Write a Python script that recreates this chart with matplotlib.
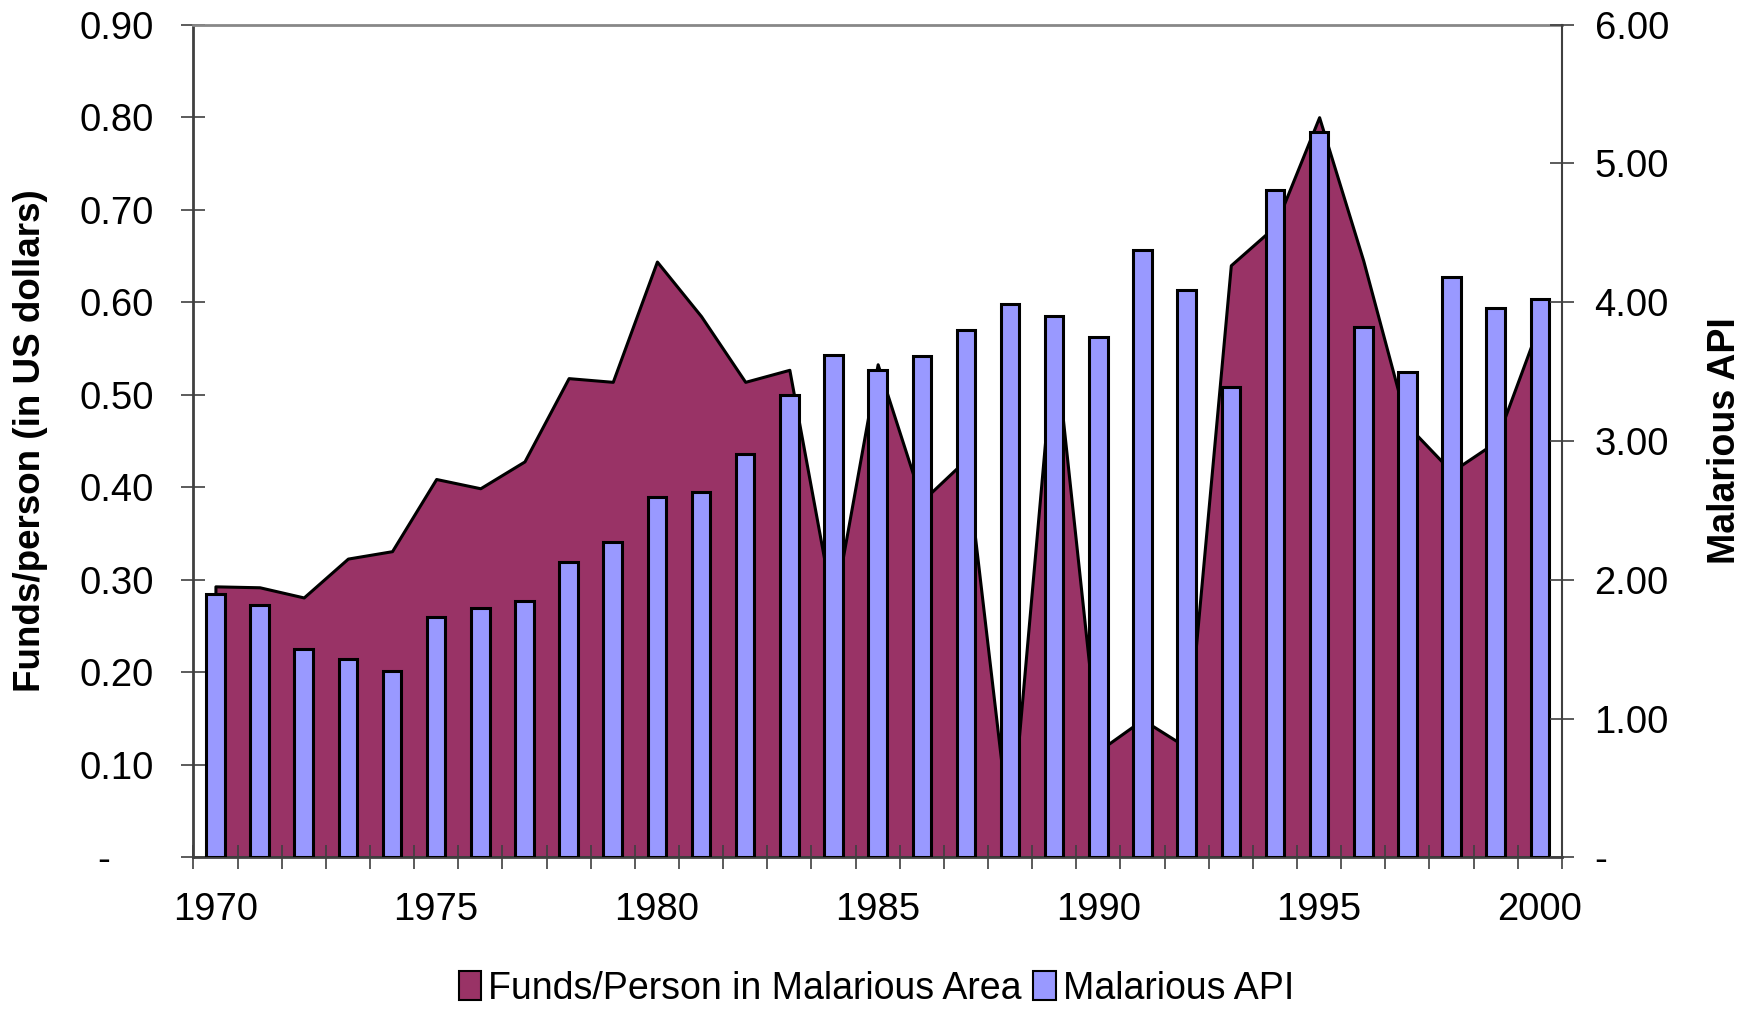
import matplotlib
matplotlib.use("Agg")
import matplotlib.pyplot as plt
import numpy as np
from matplotlib.ticker import FixedLocator, FuncFormatter
from matplotlib.patches import Patch

plt.rcParams['font.family'] = ['Liberation Sans', 'DejaVu Sans']

# --- data ---
years = list(range(1970, 2001))
funds_per_person = [0.293, 0.292, 0.281, 0.323, 0.331, 0.409, 0.399, 0.428, 0.518, 0.514,
                    0.644, 0.585, 0.514, 0.527, 0.268, 0.533, 0.385, 0.430, 0.022, 0.561,
                    0.115, 0.149, 0.119, 0.640, 0.682, 0.800, 0.645, 0.467, 0.417, 0.449,
                    0.578]
malarious_api = [1.90, 1.82, 1.50, 1.43, 1.34, 1.73, 1.80, 1.85, 2.13, 2.27,
                 2.60, 2.63, 2.91, 3.33, 3.62, 3.51, 3.61, 3.80, 3.99, 3.90,
                 3.75, 4.38, 4.09, 3.39, 4.81, 5.23, 3.82, 3.50, 4.18, 3.96,
                 4.02]
year_labels = [1970, 1975, 1980, 1985, 1990, 1995, 2000]

area_color = '#993366'
bar_color = '#9999FF'

fig = plt.figure(figsize=(17.53, 10.10), dpi=100)
ax = fig.add_axes([0.1103, 0.151, 0.7807, 0.8246])
ax2 = ax.twinx()

# area (left axis)
ax.fill_between(years, funds_per_person, 0, facecolor=area_color,
                edgecolor='black', linewidth=2.2)
ax.set_ylim(0, 0.9)
ax.set_xlim(1969.5, 2000.5)

# bars (right axis)
ax2.bar(years, malarious_api, width=0.42, color=bar_color,
        edgecolor='black', linewidth=2.2)
ax2.set_ylim(0, 6)

# left axis ticks
ax.yaxis.set_major_locator(FixedLocator(np.arange(0, 0.91, 0.1)))
ax.yaxis.set_major_formatter(FuncFormatter(lambda v, p: '-    ' if abs(v) < 1e-9 else f'{v:.2f}'))
ax.tick_params(axis='y', direction='inout', length=17, width=1.2, color='#404040',
               labelsize=27.5, pad=20)

# right axis ticks
ax2.yaxis.set_major_locator(FixedLocator(np.arange(0, 6.1, 1)))
ax2.yaxis.set_major_formatter(FuncFormatter(lambda v, p: '-' if abs(v) < 1e-9 else f'{v:.2f}'))
ax2.tick_params(axis='y', direction='inout', length=17, width=1.2, color='#404040',
                labelsize=27.5, pad=15)

# x axis: labels at category centres, ticks between categories
ax.xaxis.set_major_locator(FixedLocator(year_labels))
ax.xaxis.set_minor_locator(FixedLocator(np.arange(1969.5, 2001, 1)))
ax.tick_params(axis='x', which='major', length=0, labelsize=27.5, pad=25)
ax.tick_params(axis='x', which='minor', direction='inout', length=17, width=1.2,
               color='#404040')

# spines
ax.spines['top'].set_color('#888888')
ax.spines['top'].set_linewidth(2)
ax.spines['left'].set_color('#404040')
ax.spines['left'].set_linewidth(2)
ax.spines['bottom'].set_color('#404040')
ax.spines['bottom'].set_linewidth(2)
ax.spines['right'].set_visible(False)
ax2.spines['right'].set_color('#404040')
ax2.spines['right'].set_linewidth(1.5)
for s in ['top', 'left', 'bottom']:
    ax2.spines[s].set_visible(False)

# axis titles
ax.set_ylabel('Funds/person (in US dollars)', fontsize=26.5, fontweight='bold')
ax.yaxis.set_label_coords(-0.106, 0.5)
ax2.set_ylabel('Malarious API', fontsize=27, fontweight='bold')
ax2.yaxis.set_label_coords(1.106, 0.5)

# legend
handles = [Patch(facecolor=area_color, edgecolor='black', linewidth=1.5),
           Patch(facecolor=bar_color, edgecolor='black', linewidth=1.5)]
fig.legend(handles, ['Funds/Person in Malarious Area', 'Malarious API'],
           loc='center', bbox_to_anchor=(0.5, 0.021), ncol=2, frameon=False,
           fontsize=27, handlelength=0.6, handleheight=0.8, handletextpad=0.2,
           columnspacing=0.3)

fig.savefig('out.png', dpi=100)
